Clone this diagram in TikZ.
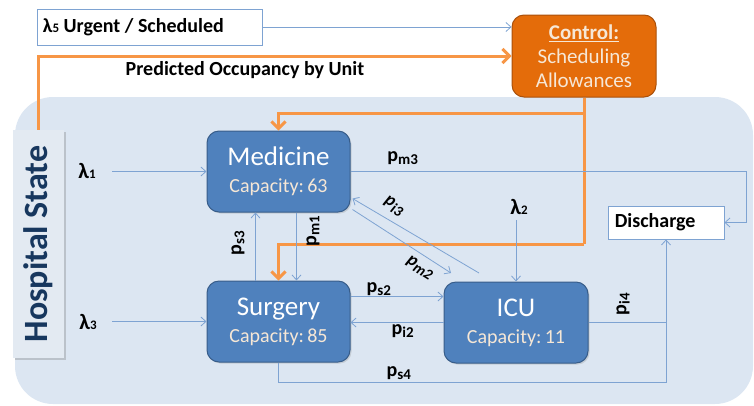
\documentclass[tikz,border=0pt]{standalone}
\usepackage{fontspec}
\setmainfont{Carlito}
\usetikzlibrary{arrows.meta,calc,shadows}
\definecolor{bgblue}{HTML}{DCE6F2}
\definecolor{boxblue}{HTML}{4F81BD}
\definecolor{boxedge}{HTML}{385D8A}
\definecolor{ctrlfill}{HTML}{E46C0A}
\definecolor{ctrledge}{HTML}{A9500B}
\definecolor{orangeline}{HTML}{F79646}
\definecolor{connblue}{HTML}{7EA3D2}
\definecolor{captext}{HTML}{F6E7D6}
\definecolor{hstext}{HTML}{17375E}
\definecolor{hsfill}{HTML}{E3EAF2}
\tikzset{
  unitbox/.style={draw=boxedge, fill=boxblue, line width=1pt, rounded corners=12pt,
    minimum width=143pt, minimum height=81pt, align=center, text=white,
    font=\fontsize{27}{29}\selectfont, inner sep=0pt,
    drop shadow={shadow xshift=1.5pt, shadow yshift=-1.5pt, opacity=0.25}},
  whitebox/.style={draw=connblue, fill=white, line width=0.8pt, inner sep=0pt,
    font=\bfseries\fontsize{20}{22}\selectfont},
  conn/.style={draw=connblue, line width=0.8pt},
  connarrow/.style={conn, -{Straight Barb[length=5pt,width=9pt]}},
  orangepath/.style={draw=orangeline, line width=3pt},
  orangearrow/.style={orangepath, -{Straight Barb[length=7pt,width=14pt,line width=3pt]}},
  plabel/.style={font=\bfseries\fontsize{20}{22}\selectfont, inner sep=0pt},
  diaglabel/.style={font=\bfseries\itshape\fontsize{18}{20}\selectfont, inner sep=0pt, rotate=-32},
  lamlabel/.style={font=\bfseries\fontsize{22}{24}\selectfont, inner sep=0pt},
}
\newcommand{\captxt}[1]{\\[-2pt]{\color{captext}\fontsize{20}{22}\selectfont Capacity:\,#1}}
\newcommand{\plab}[2]{p\textsubscript{\fontsize{15}{16}\selectfont #2}}
\newcommand{\lam}[1]{λ{\fontsize{13}{14}\selectfont #1}}
\begin{document}
\begin{tikzpicture}[x=1pt,y=-1pt]
\useasboundingbox (0,0) rectangle (754,405);
% background
\fill[bgblue, rounded corners=38pt] (15,97) rectangle (753,404);

% nodes
\node[whitebox, minimum width=225pt, minimum height=36pt] (l5) at (149.5,27) {};
\node[anchor=west, inner sep=0pt, font=\bfseries\fontsize{20}{22}\selectfont] (l5t) at (l5.west) {\hspace*{6pt}\lam{5} Urgent / Scheduled};
\node[draw=ctrledge, fill=ctrlfill, line width=1pt, rounded corners=12pt,
      minimum width=144pt, minimum height=82pt, align=center, text=captext,
      font=\fontsize{21}{24}\selectfont, inner sep=0pt] (ctrl) at (584,56)
      {\underline{\textbf{Control:}}\\Scheduling\\Allowances};
\node[draw=none, fill=hsfill, rotate=90, minimum width=228pt, minimum height=51pt,
      text=hstext, font=\bfseries\fontsize{34}{36}\selectfont, inner sep=0pt,
      drop shadow={shadow xshift=2pt, shadow yshift=-2pt, opacity=0.35}] (hs) at (38,244) {Hospital State};
\node[unitbox] (med) at (278.5,171.5) {Medicine\captxt{63}};
\node[unitbox] (sur) at (278.5,321.5) {Surgery\captxt{85}};
\node[unitbox, minimum width=144pt] (icu) at (516,322.5) {ICU\captxt{11}};
\node[whitebox, minimum width=116pt, minimum height=33pt] (dis) at (666,222.5) {};
\node[anchor=west, inner sep=0pt, font=\bfseries\fontsize{20}{22}\selectfont] (dist) at (dis.west) {\hspace*{7pt}Discharge};

\node[font=\bfseries\fontsize{20}{22}\selectfont, inner sep=0pt] (pred) at (245,70) {Predicted Occupancy by Unit};

% lambda labels
\node[lamlabel] (lam1) at (87,171) {\lam{1}};
\node[lamlabel] (lam3) at (88,322) {\lam{3}};
\node[lamlabel] (lam2) at (519,207) {\lam{2}};

% helper coordinates
\coordinate (turnA) at (0,113);
\coordinate (turnB) at (0,244);
\coordinate (turnC) at (0,382);
\coordinate (rightx) at (746,0);
\coordinate (pmtwoend) at (451,273);
\coordinate (pithreestart) at (479,273);
\coordinate (lamonestart) at (112,0);
\coordinate (lamtwostart) at (0,220);

% top connectors
\draw[connarrow] (l5.east) -- (l5.east -| ctrl.west);
\draw[orangearrow] (hs.east) |- (ctrl.west);

% orange control arrows
\draw[orangepath] (ctrl.south) -- (ctrl.south |- turnB);
\draw[orangearrow] (ctrl.south |- turnA) -| (med.north);
\draw[orangearrow] (ctrl.south |- turnB) -| (sur.north);

% arrivals
\draw[connarrow] (med.west -| lamonestart) -- (med.west);
\draw[connarrow] (sur.west -| lamonestart) -- (sur.west);
\draw[connarrow] (icu.north |- lamtwostart) -- (icu.north);

% medicine to discharge
\draw[connarrow] (med.east) -- (med.east -| rightx) |- (dis.east);
\node[plabel] (pm3) at (403,158) {\plab{p}{m3}};

% medicine <-> surgery
\draw[connarrow] ($(med.south)+(18,0)$) -- ($(sur.north)+(18,0)$);
\node[plabel, rotate=90] (pm1) at (313,231) {\plab{p}{m1}};
\draw[connarrow] ($(sur.north)+(-23,0)$) -- ($(med.south)+(-23,0)$);
\node[plabel, rotate=90] (ps3) at (238,243) {\plab{p}{s3}};

% medicine <-> ICU diagonals
\draw[connarrow] ($(med.east)+(2,38)$) -- (pmtwoend);
\node[diaglabel] (pm2) at (420,268) {\plab{p}{m2}};
\draw[connarrow] (pithreestart) -- ($(med.east)+(2,27)$);
\node[diaglabel] (pi3) at (394,206) {\plab{p}{i3}};

% surgery <-> ICU
\draw[connarrow] ($(sur.east)+(0,-25)$) -- ($(icu.west)+(0,-26)$);
\node[plabel] (ps2) at (379,289) {\plab{p}{s2}};
\draw[connarrow] (icu.west) -- (icu.west -| sur.east);
\node[plabel] (pi2) at (403,331) {\plab{p}{i2}};

% to discharge
\draw[connarrow] (sur.south) |- (turnC -| dis.south) -- (dis.south);
\node[plabel] (ps4) at (399,373) {\plab{p}{s4}};
\draw[conn] (icu.east) -- (icu.east -| dis.south);
\node[plabel, rotate=90] (pi4) at (623,304) {\plab{p}{i4}};
\end{tikzpicture}
\end{document}
